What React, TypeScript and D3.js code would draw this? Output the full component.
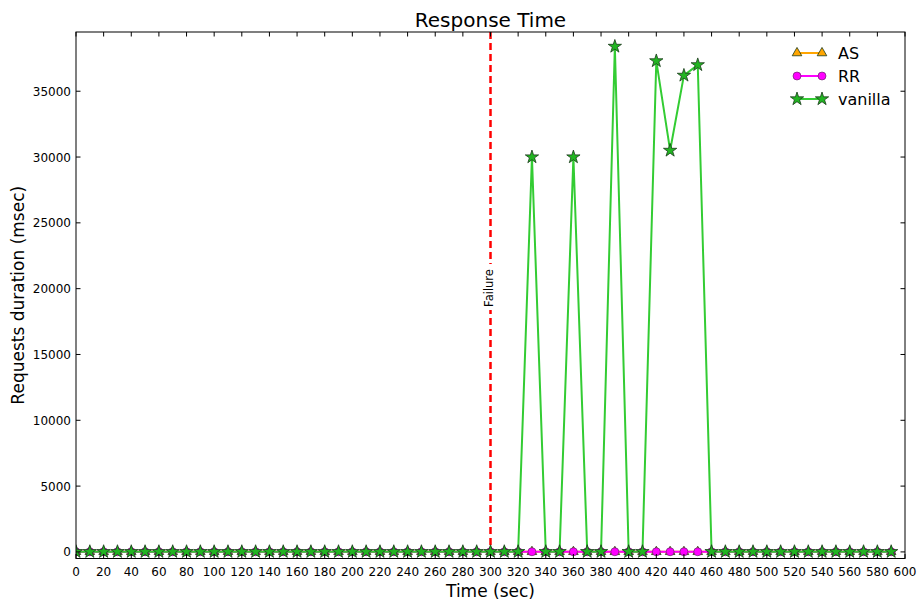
import React, { useEffect, useRef } from "react";
import * as d3 from "d3";

const times = [0,10,20,30,40,50,60,70,80,90,100,110,120,130,140,150,160,170,180,190,200,210,220,230,240,250,260,270,280,290,300,310,320,330,340,350,360,370,380,390,400,410,420,430,440,450,460,470,480,490,500,510,520,530,540,550,560,570,580,590];
const asValues = [10,10,10,10,10,10,10,10,10,10,10,10,10,10,10,10,10,10,10,10,10,10,10,10,10,10,10,10,10,10,10,10,10,10,10,10,10,10,10,10,10,10,10,10,10,10,10,10,10,10,10,10,10,10,10,10,10,10,10,10];
const rrValues = [12,12,12,12,12,12,12,12,12,12,12,12,12,12,12,12,12,12,12,12,12,12,12,12,12,12,12,12,12,12,12,12,12,12,12,12,12,12,12,12,12,12,12,12,12,12,12,12,12,12,12,12,12,12,12,12,12,12,12,12];
const vanillaValues = [15,15,15,15,15,15,15,15,15,15,15,15,15,15,15,15,15,15,15,15,15,15,15,15,15,15,15,15,15,15,15,15,15,30000,15,15,30000,15,15,38400,15,15,37300,30500,36200,37000,15,15,15,15,15,15,15,15,15,15,15,15,15,15];
const xTicks = [0,20,40,60,80,100,120,140,160,180,200,220,240,260,280,300,320,340,360,380,400,420,440,460,480,500,520,540,560,580,600];
const yTicks = [0,5000,10000,15000,20000,25000,30000,35000];
const seriesNames = ["AS", "RR", "vanilla"];
const failureTime = 300;

const W = 919, H = 603;
const M = { left: 76, top: 32, right: 905, bottom: 558.5 };
const FONT = "DejaVu Sans, sans-serif";

export default function App() {
  const ref = useRef<SVGSVGElement>(null);
  useEffect(() => {
    document.body.style.margin = "0";
    const svg = d3.select(ref.current);
    svg.selectAll("*").remove();
    const x = d3.scaleLinear().domain([0, 600]).range([M.left, M.right]);
    const y = d3.scaleLinear().domain([-500, 39500]).range([M.bottom, M.top]);

    svg.append("rect").attr("width", W).attr("height", H).attr("fill", "#fff");

    const defs = svg.append("defs");
    defs.append("clipPath").attr("id", "clip").append("rect")
      .attr("x", M.left).attr("y", M.top).attr("width", M.right - M.left).attr("height", M.bottom - M.top);

    const plot = svg.append("g").attr("clip-path", "url(#clip)");

    // failure line
    plot.append("line")
      .attr("x1", x(failureTime)).attr("x2", x(failureTime))
      .attr("y1", M.top).attr("y2", M.bottom)
      .attr("stroke", "red").attr("stroke-width", 2.5).attr("stroke-dasharray", "7,4");

    const line = d3.line<number>().x((_, i) => x(times[i])).y((d) => y(d));

    const star = d3.symbol().type(d3.symbolStar).size(55);
    const tri = d3.symbol().type(d3.symbolTriangle).size(40);

    const series = [
      { vals: asValues, color: "#ffa500", mfill: "#ffa500", sym: tri, r: 0 },
      { vals: rrValues, color: "#ff00ff", mfill: "#ff00ff", sym: null, r: 4 },
      { vals: vanillaValues, color: "#33cc33", mfill: "#22b522", sym: star, r: 0 },
    ];

    series.forEach((s) => {
      plot.append("path").attr("d", line(s.vals) as string)
        .attr("fill", "none").attr("stroke", s.color).attr("stroke-width", 2);
      s.vals.forEach((v, i) => {
        if (s.sym) {
          plot.append("path").attr("d", s.sym() as string)
            .attr("transform", `translate(${x(times[i])},${y(v)})`)
            .attr("fill", s.mfill).attr("stroke", "#1a3a1a").attr("stroke-width", 0.8);
        } else {
          plot.append("circle").attr("cx", x(times[i])).attr("cy", y(v)).attr("r", s.r)
            .attr("fill", s.mfill).attr("stroke", "#552255").attr("stroke-width", 0.6);
        }
      });
    });

    // failure label
    const fx = x(failureTime) - 2, fy = 288;
    svg.append("rect").attr("x", fx - 7).attr("y", fy - 24).attr("width", 14).attr("height", 46).attr("fill", "#fff");
    svg.append("text").attr("transform", `translate(${fx + 4},${fy}) rotate(-90)`)
      .attr("text-anchor", "middle").attr("font-family", FONT).attr("font-size", 11.5)
      .text("Failure");

    // frame
    svg.append("rect").attr("x", M.left).attr("y", M.top)
      .attr("width", M.right - M.left).attr("height", M.bottom - M.top)
      .attr("fill", "none").attr("stroke", "#000").attr("stroke-width", 1);

    const tl = 4.5;
    xTicks.forEach((t) => {
      const px = x(t);
      svg.append("line").attr("x1", px).attr("x2", px).attr("y1", M.bottom).attr("y2", M.bottom - tl).attr("stroke", "#000");
      svg.append("line").attr("x1", px).attr("x2", px).attr("y1", M.top).attr("y2", M.top + tl).attr("stroke", "#000");
      svg.append("text").attr("x", px).attr("y", M.bottom + 17).attr("text-anchor", "middle")
        .attr("font-family", FONT).attr("font-size", 12).text(String(t));
    });
    yTicks.forEach((t) => {
      const py = y(t);
      svg.append("line").attr("x1", M.left).attr("x2", M.left + tl).attr("y1", py).attr("y2", py).attr("stroke", "#000");
      svg.append("line").attr("x1", M.right).attr("x2", M.right - tl).attr("y1", py).attr("y2", py).attr("stroke", "#000");
      svg.append("text").attr("x", M.left - 5).attr("y", py + 4.5).attr("text-anchor", "end")
        .attr("font-family", FONT).attr("font-size", 12).text(String(t));
    });

    svg.append("text").attr("x", (M.left + M.right) / 2).attr("y", 27).attr("text-anchor", "middle")
      .attr("font-family", FONT).attr("font-size", 20).text("Response Time");
    svg.append("text").attr("x", (M.left + M.right) / 2).attr("y", 597).attr("text-anchor", "middle")
      .attr("font-family", FONT).attr("font-size", 17).text("Time (sec)");
    svg.append("text").attr("transform", `translate(24,${(M.top + M.bottom) / 2}) rotate(-90)`)
      .attr("text-anchor", "middle").attr("font-family", FONT).attr("font-size", 17)
      .text("Requests duration (msec)");

    // legend
    const lg = svg.append("g");
    seriesNames.forEach((name, i) => {
      const s = series[i];
      const ly = 53 + i * 23;
      lg.append("line").attr("x1", 797).attr("x2", 822).attr("y1", ly).attr("y2", ly)
        .attr("stroke", s.color).attr("stroke-width", 2);
      [797, 822].forEach((mx) => {
        if (s.sym) {
          lg.append("path").attr("d", s.sym() as string).attr("transform", `translate(${mx},${ly})`)
            .attr("fill", s.mfill).attr("stroke", "#1a3a1a").attr("stroke-width", 0.8);
        } else {
          lg.append("circle").attr("cx", mx).attr("cy", ly).attr("r", s.r)
            .attr("fill", s.mfill).attr("stroke", "#552255").attr("stroke-width", 0.6);
        }
      });
      lg.append("text").attr("x", 838).attr("y", ly + 6).attr("font-family", FONT).attr("font-size", 16).text(name);
    });
  }, []);
  return <svg ref={ref} width={W} height={H} style={{ display: "block" }} />;
}
